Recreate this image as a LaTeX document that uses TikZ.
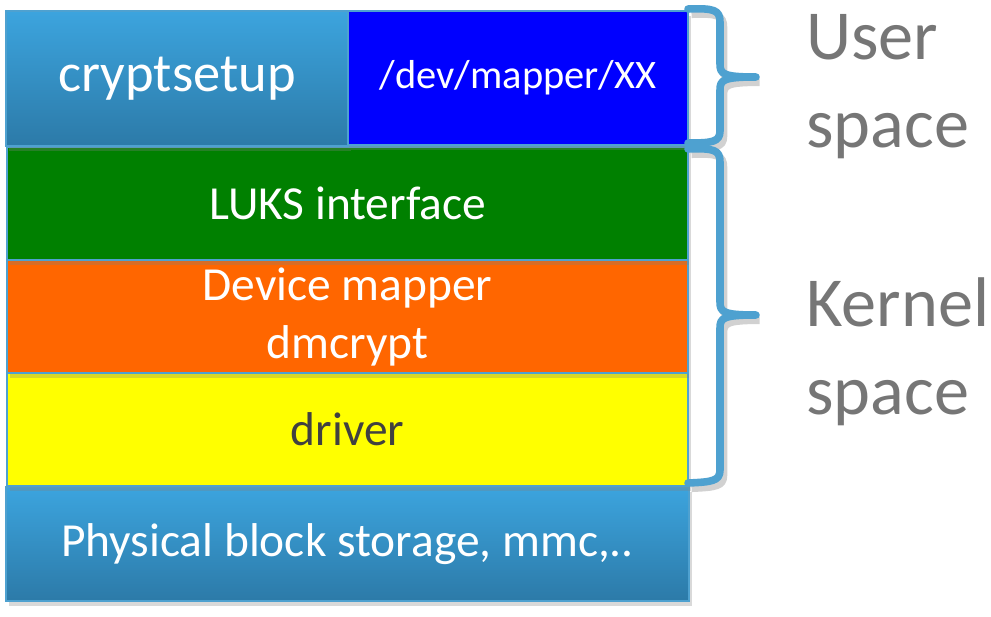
\documentclass[tikz,border=0pt]{standalone}
\usepackage{fontspec}
\setmainfont{Carlito}
\usetikzlibrary{shadows}
\definecolor{boxline}{RGB}{78,161,208}
\definecolor{layertop}{RGB}{60,164,222}
\definecolor{layerbot}{RGB}{44,122,168}
\definecolor{lukscol}{RGB}{0,128,0}
\definecolor{dmcol}{RGB}{255,102,0}
\definecolor{drvcol}{RGB}{255,255,0}
\definecolor{mapcol}{RGB}{0,0,255}
\definecolor{labelgray}{RGB}{118,118,118}
\definecolor{drvtext}{RGB}{64,64,64}
\tikzset{
  layer/.style={draw=boxline, line width=1.3pt, anchor=north west, inner sep=0pt,
    text=white, align=center, font=\fontsize{27}{33}\selectfont,
    drop shadow={opacity=0.3, shadow xshift=0.05cm, shadow yshift=-0.09cm}},
  bluelayer/.style={layer, top color=layertop, bottom color=layerbot},
  brace/.style={draw=boxline, line width=4.3pt, line cap=round, line join=round,
    preaction={draw=black, draw opacity=0.18, line width=4.3pt,
      transform canvas={xshift=2pt, yshift=-3pt}}},
  spacelabel/.style={anchor=base west, inner sep=0pt, text=labelgray, align=left,
    font=\fontsize{40}{50}\selectfont},
}
\begin{document}
\begin{tikzpicture}[x=0.02cm, y=-0.02cm]
  \useasboundingbox (0,0) rectangle (991,616);
  % layers, from the bottom up so each shadow falls on the one below
  \node [bluelayer, minimum width=13.66cm, minimum height=2.28cm] (phys) at (5,486) {Physical block storage, mmc,..};
  \node [layer, fill=drvcol, text=drvtext, minimum width=13.62cm, minimum height=2.26cm] (drv) at (6,372) {driver};
  \node [layer, fill=dmcol, minimum width=13.62cm, minimum height=2.26cm] (dm) at (6,259) {Device mapper\\dmcrypt};
  \node [layer, fill=lukscol, minimum width=13.62cm, minimum height=2.26cm] (luks) at (6,146) {LUKS interface};
  \node [bluelayer, font=\fontsize{31}{37}\selectfont, minimum width=6.84cm, minimum height=2.7cm] (crypt) at (5,10) {cryptsetup};
  \node [layer, fill=mapcol, font=\fontsize{23}{28}\selectfont, minimum width=6.8cm, minimum height=2.68cm] (mapper) at (347,10) {/dev/mapper/XX};
  % braces
  \draw [brace] (688,9) .. controls (714,8) and (720,10) .. (720,22) -- (720,64)
    .. controls (720,74) and (723,77) .. (756,77)
    .. controls (723,77) and (720,80) .. (720,90) -- (720,131)
    .. controls (720,142) and (712,143) .. (688,143);
  \draw [brace] (688,149) .. controls (714,148) and (720,150) .. (720,162) -- (720,302)
    .. controls (720,312) and (723,315) .. (756,315)
    .. controls (723,315) and (720,318) .. (720,328) -- (720,470)
    .. controls (720,481) and (712,482) .. (688,483);
  % base anchor sits on the last line
  \node [spacelabel] (user) at (806,147) {User\\space};
  \node [spacelabel] (kernel) at (806,414) {Kernel\\space};
\end{tikzpicture}
\end{document}
